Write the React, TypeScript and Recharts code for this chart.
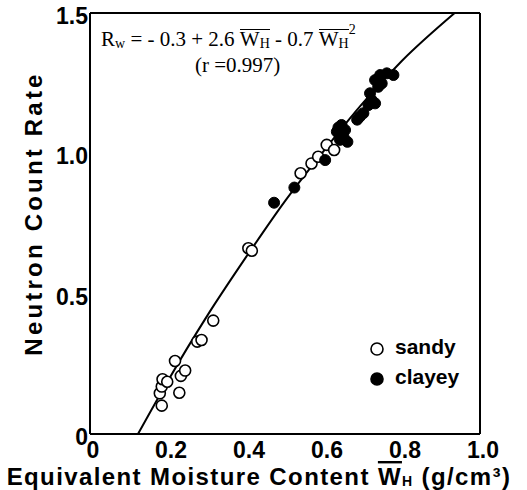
import { ScatterChart, Scatter, XAxis, YAxis, ReferenceLine, Label } from 'recharts';

// sandy soils (open circles): equivalent moisture content, neutron count rate
const sandyW = [0.184, 0.179, 0.184, 0.186, 0.198, 0.218, 0.229, 0.233, 0.244, 0.275, 0.286, 0.316, 0.406, 0.415, 0.54, 0.568, 0.585, 0.607, 0.626];
const sandyR = [0.101, 0.145, 0.169, 0.195, 0.186, 0.26, 0.147, 0.207, 0.226, 0.329, 0.335, 0.404, 0.662, 0.653, 0.929, 0.964, 0.988, 1.03, 1.012];

// clayey soils (filled circles)
const clayW = [0.472, 0.524, 0.603, 0.633, 0.645, 0.65, 0.66, 0.641, 0.654, 0.637, 0.685, 0.692, 0.701, 0.714, 0.722, 0.731, 0.718, 0.731, 0.744, 0.761, 0.778, 0.748, 0.739];
const clayR = [0.824, 0.878, 0.976, 1.077, 1.101, 1.059, 1.041, 1.048, 1.083, 1.092, 1.12, 1.131, 1.143, 1.172, 1.19, 1.178, 1.214, 1.261, 1.279, 1.285, 1.279, 1.249, 1.237];

// fitted curve
const fitW = [0.123, 0.2, 0.3, 0.4, 0.5, 0.6, 0.7, 0.8, 0.935];
const fitR = [0, 0.19, 0.42, 0.63, 0.83, 1.01, 1.18, 1.33, 1.5];

const xTicks = [0, 0.2, 0.4, 0.6, 0.8, 1.0];
const yTicks = [0, 0.5, 1.0, 1.5];

const sans = '"Liberation Sans", Arial, sans-serif';
const serif = '"Liberation Serif", "Times New Roman", serif';

const toPoints = (w: number[], r: number[]) => w.map((v, i) => ({ w: v, r: r[i] }));

const OpenDot = (p: any) => <circle cx={p.cx} cy={p.cy} r={5.5} fill="#fff" stroke="#000" strokeWidth={1.6} />;
const FilledDot = (p: any) => <circle cx={p.cx} cy={p.cy} r={5.5} fill="#000" stroke="#000" strokeWidth={1} />;
const NoDot = () => null;

const tickStyle = { fill: '#000', fontFamily: sans, fontWeight: 700, fontSize: 23 };

function LegendBox() {
    const item = (filled: boolean, text: string) => (
        <div style={{ display: 'flex', alignItems: 'center', height: 30 }}>
            <svg width={20} height={20} style={{ marginRight: 7 }}>
                <circle cx={9} cy={10} r={6} fill={filled ? '#000' : '#fff'} stroke="#000" strokeWidth={1.6} />
            </svg>
            <span style={{ fontFamily: sans, fontWeight: 700, fontSize: 21, color: '#000', lineHeight: '20px', marginTop: -4 }}>{text}</span>
        </div>
    );
    return (
        <div style={{ position: 'absolute', left: 368, top: 334 }}>
            {item(false, 'sandy')}
            {item(true, 'clayey')}
        </div>
    );
}

const bar = { display: 'inline-block', borderTop: '1.3px solid #000', lineHeight: '19px' } as const;
const sub = { fontSize: 14, position: 'relative', top: 2 } as const;

export default function App() {
    const sandy = toPoints(sandyW, sandyR);
    const clayey = toPoints(clayW, clayR);
    const fit = toPoints(fitW, fitR);

    return (
        <div style={{ position: 'absolute', left: 0, top: 0, width: 527, height: 490, background: '#fff' }}>
            <ScatterChart width={527} height={490} margin={{ top: 13, right: 47, bottom: 0, left: 0 }}>
                <XAxis
                    type="number"
                    dataKey="w"
                    domain={[0, 1]}
                    ticks={xTicks}
                    height={56}
                    tickSize={0}
                    tickMargin={8}
                    tickLine={false}
                    axisLine={{ stroke: '#000', strokeWidth: 2 }}
                    tick={{ ...tickStyle, dx: 3 }}
                    tickFormatter={(v: number) => (v === 0 ? '0' : v.toFixed(1))}
                >
                    <Label
                        content={(props: any) => {
                            const vb = props.viewBox;
                            return (
                                <text
                                    x={vb.x + vb.width / 2 - 26}
                                    y={vb.y + vb.height - 5}
                                    textAnchor="middle"
                                    fontFamily={sans}
                                    fontWeight={700}
                                    fontSize={24}
                                    letterSpacing={1.4}
                                    fill="#000"
                                >
                                    Equivalent Moisture Content{' '}
                                    <tspan textDecoration="overline">W</tspan>
                                    <tspan fontSize={14} dy={1}>H</tspan>
                                    <tspan dy={-1}> (g/cm³)</tspan>
                                </text>
                            );
                        }}
                    />
                </XAxis>
                <YAxis
                    type="number"
                    dataKey="r"
                    domain={[0, 1.5]}
                    ticks={yTicks}
                    width={90}
                    tickSize={0}
                    tickMargin={2}
                    tickLine={false}
                    axisLine={{ stroke: '#000', strokeWidth: 2 }}
                    tick={{ ...tickStyle, dy: 3 }}
                    tickFormatter={(v: number) => (v === 0 ? '0' : v.toFixed(1))}
                >
                    <Label
                        content={(props: any) => {
                            const vb = props.viewBox;
                            const cy = vb.y + vb.height / 2 - 10;
                            return (
                                <text
                                    x={42}
                                    y={cy}
                                    transform={`rotate(-90, 42, ${cy})`}
                                    textAnchor="middle"
                                    fontFamily={sans}
                                    fontWeight={700}
                                    fontSize={24}
                                    letterSpacing={3.2}
                                    fill="#000"
                                >
                                    Neutron Count Rate
                                </text>
                            );
                        }}
                    />
                </YAxis>
                <ReferenceLine y={1.5} stroke="#000" strokeWidth={2} />
                <ReferenceLine x={1} stroke="#000" strokeWidth={2} />
                <Scatter data={fit} line={{ stroke: '#000', strokeWidth: 2 }} lineJointType="monotoneX" shape={NoDot} isAnimationActive={false} legendType="none" />
                <Scatter name="sandy" data={sandy} shape={OpenDot} isAnimationActive={false} />
                <Scatter name="clayey" data={clayey} shape={FilledDot} isAnimationActive={false} />
            </ScatterChart>
            <LegendBox />
            <div style={{ position: 'absolute', left: 101, top: 27, fontFamily: serif, fontSize: 21, color: '#000', whiteSpace: 'nowrap', lineHeight: '24px' }}>
                R<span style={sub}>w</span> = - 0.3 + 2.6 <span style={bar}>W<span style={sub}>H</span></span> - 0.7{' '}
                <span style={bar}>W<span style={sub}>H</span></span>
                <span style={{ fontSize: 14, position: 'relative', top: -12 }}>2</span>
            </div>
            <div style={{ position: 'absolute', left: 195, top: 53, fontFamily: serif, fontSize: 21, color: '#000', whiteSpace: 'nowrap', lineHeight: '24px' }}>
                (r =0.997)
            </div>
        </div>
    );
}
